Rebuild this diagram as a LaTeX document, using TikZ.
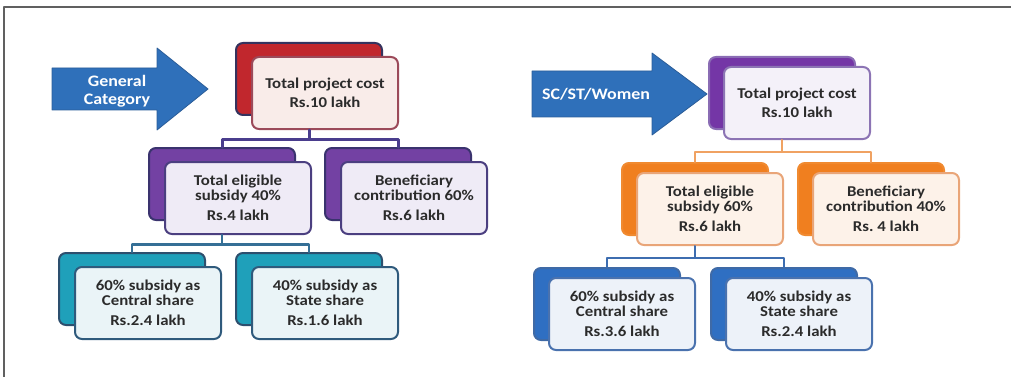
\documentclass[tikz,border=0pt]{standalone}
\usepackage{fontspec}
\setmainfont{Carlito}[FakeStretch=1.12]
\definecolor{txt}{HTML}{2B2B2B}
\definecolor{arrowblue}{HTML}{2F70BA}
\definecolor{arrowedge}{HTML}{2B5D98}
\begin{document}
\begin{tikzpicture}[x=1pt, y=-1pt, line join=round, line cap=round,
	back/.style 2 args={draw=#1, fill=#2, line width=2pt, rounded corners=7pt, anchor=north west, minimum width=146pt, minimum height=72pt, inner sep=0pt},
	front/.style 2 args={draw=#1, fill=#2, line width=2pt, rounded corners=7pt, anchor=north west, minimum width=146pt, minimum height=72pt, inner sep=0pt, align=center, text=txt, font=\bfseries\fontsize{15}{15}\selectfont},
	bigarrow/.style={fill=arrowblue, draw=arrowedge, line width=0.8pt},
	arrowtext/.style={text=white, align=center, font=\bfseries\fontsize{16}{16}\selectfont},
	linkA/.style={draw={rgb,255:red,74;green,61;blue,141}, line width=3pt},
	linkB/.style={draw={rgb,255:red,53;green,111;blue,150}, line width=2.6pt},
	linkC/.style={draw={rgb,255:red,240;green,162;blue,98}, line width=2pt},
	linkD/.style={draw={rgb,255:red,61;green,109;blue,176}, line width=2pt}]
	\useasboundingbox (0,0) rectangle (1011,377);
	\draw[line width=1.4pt, gray!75!black] (4,377) -- (4,7) -- (1011,7);
	\draw[bigarrow] (52,68) -- (157,68) -- (157,48) -- (208,89) -- (157,130) -- (157,110) -- (52,110) -- cycle;
	\node[arrowtext] (gen) at (117,91) {General\\[2pt]Category};
	\node[back={{rgb,255:red,53;green,51;blue,94}}{{rgb,255:red,193;green,39;blue,45}}] (topLb) at (235,42) {};
	\node[front={{rgb,255:red,156;green,74;blue,90}}{{rgb,255:red,249;green,236;blue,233}}] (topLf) at ([shift={(16,14)}]topLb.north west) {Total project cost\\[4pt]Rs.10 lakh};
	\node[back={{rgb,255:red,58;green,51;blue,110}}{{rgb,255:red,115;green,65;blue,163}}] (midL1b) at (148,147) {};
	\node[front={{rgb,255:red,75;green,63;blue,128}}{{rgb,255:red,239;green,235;blue,246}}] (midL1f) at ([shift={(16,14)}]midL1b.north west) {Total eligible\\subsidy 40\%\\[5pt]Rs.4 lakh};
	\node[back={{rgb,255:red,58;green,51;blue,110}}{{rgb,255:red,115;green,65;blue,163}}] (midL2b) at (324,147) {};
	\node[front={{rgb,255:red,75;green,63;blue,128}}{{rgb,255:red,239;green,235;blue,246}}] (midL2f) at ([shift={(16,14)}]midL2b.north west) {Beneficiary\\contribution 60\%\\[5pt]Rs.6 lakh};
	\node[back={{rgb,255:red,45;green,79;blue,110}}{{rgb,255:red,31;green,160;blue,186}}] (botL1b) at (58,252) {};
	\node[front={{rgb,255:red,47;green,90;blue,124}}{{rgb,255:red,234;green,244;blue,247}}] (botL1f) at ([shift={(16,14)}]botL1b.north west) {60\% subsidy as\\Central share\\[5pt]Rs.2.4 lakh};
	\node[back={{rgb,255:red,45;green,79;blue,110}}{{rgb,255:red,31;green,160;blue,186}}] (botL2b) at (235,252) {};
	\node[front={{rgb,255:red,47;green,90;blue,124}}{{rgb,255:red,234;green,244;blue,247}}] (botL2f) at ([shift={(16,14)}]botL2b.north west) {40\% subsidy as\\State share\\[5pt]Rs.1.6 lakh};
	\draw[linkA] (topLb.south |- topLf.south) -- ++(0,9.5) coordinate (jA) -| (midL1b.north) (jA) -| (midL2b.north);
	\draw[linkB] (midL1b.south |- midL1f.south) -- ++(0,9.5) coordinate (jB) -| (botL1b.north) (jB) -| (botL2b.north);
	\draw[bigarrow] (532,71) -- (652,71) -- (652,53) -- (707,94) -- (652,135) -- (652,117) -- (532,117) -- cycle;
	\node[arrowtext] (spec) at (596,94) {SC/ST/Women};
	\node[back={{rgb,255:red,138;green,108;blue,180}}{{rgb,255:red,116;green,54;blue,166}}] (topRb) at (708,56) {};
	\node[front={{rgb,255:red,140;green,116;blue,180}}{{rgb,255:red,244;green,241;blue,249}}] (topRf) at ([shift={(15,10)}]topRb.north west) {Total project cost\\[4pt]Rs.10 lakh};
	\node[back={{rgb,255:red,240;green,138;blue,48}}{{rgb,255:red,240;green,127;blue,31}}] (midR1b) at (621,162) {};
	\node[front={{rgb,255:red,233;green,165;blue,120}}{{rgb,255:red,253;green,242;blue,233}}] (midR1f) at ([shift={(15,10)}]midR1b.north west) {Total eligible\\subsidy 60\%\\[5pt]Rs.6 lakh};
	\node[back={{rgb,255:red,240;green,138;blue,48}}{{rgb,255:red,240;green,127;blue,31}}] (midR2b) at (797,162) {};
	\node[front={{rgb,255:red,233;green,165;blue,120}}{{rgb,255:red,253;green,242;blue,233}}] (midR2f) at ([shift={(15,10)}]midR2b.north west) {Beneficiary\\contribution 40\%\\[5pt]Rs.\ 4 lakh};
	\node[back={{rgb,255:red,63;green,106;blue,166}}{{rgb,255:red,47;green,111;blue,194}}] (botR1b) at (533,267) {};
	\node[front={{rgb,255:red,74;green,114;blue,174}}{{rgb,255:red,237;green,242;blue,249}}] (botR1f) at ([shift={(15,10)}]botR1b.north west) {60\% subsidy as\\Central share\\[5pt]Rs.3.6 lakh};
	\node[back={{rgb,255:red,63;green,106;blue,166}}{{rgb,255:red,47;green,111;blue,194}}] (botR2b) at (710,267) {};
	\node[front={{rgb,255:red,74;green,114;blue,174}}{{rgb,255:red,237;green,242;blue,249}}] (botR2f) at ([shift={(15,10)}]botR2b.north west) {40\% subsidy as\\State share\\[5pt]Rs.2.4 lakh};
	\draw[linkC] (topRb.south |- topRf.south) -- ++(0,12) coordinate (jC) -| (midR1b.north) (jC) -| (midR2b.north);
	\draw[linkD] (midR1b.south |- midR1f.south) -- ++(0,11.5) coordinate (jD) -| (botR1b.north) (jD) -| (botR2b.north);
\end{tikzpicture}
\end{document}
